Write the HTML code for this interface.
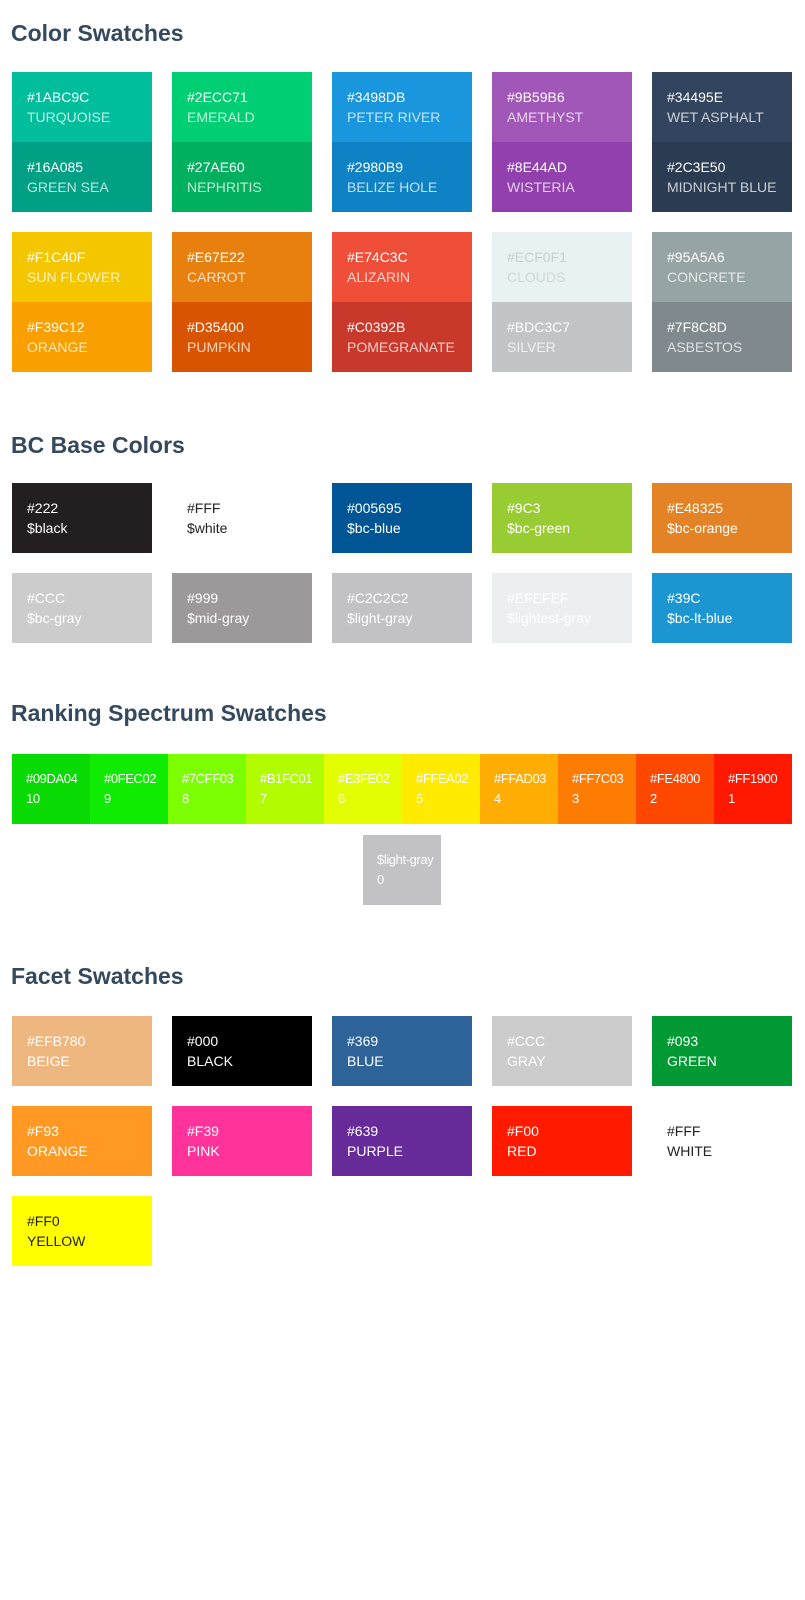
<!DOCTYPE html>
<html><head><meta charset="utf-8"><style>
*{margin:0;padding:0;box-sizing:border-box}
body{width:805px;height:1600px;background:#fff;position:relative;overflow:hidden;font-family:"Liberation Sans",sans-serif}
h2{position:absolute;left:11px;font-size:23px;font-weight:bold;color:#34495E;line-height:28px}
.sw{position:absolute;height:70px;padding-left:15px}
.sw span{position:absolute;left:15px;font-size:14px;line-height:16px;white-space:nowrap}
.h{top:17px}.n{top:37px}
.c .n{font-weight:300;opacity:.75}
.r span{font-size:13px;letter-spacing:-0.4px}
.r .h{left:14px}.r .n{left:14px}
</style></head><body>
<h2 style="top:19px">Color Swatches</h2>
<h2 style="top:431px">BC Base Colors</h2>
<h2 style="top:699px">Ranking Spectrum Swatches</h2>
<h2 style="top:962px">Facet Swatches</h2>
<div id="root"></div>
<script>
const colorHex=["#1ABC9C","#2ECC71","#3498DB","#9B59B6","#34495E","#16A085","#27AE60","#2980B9","#8E44AD","#2C3E50","#F1C40F","#E67E22","#E74C3C","#ECF0F1","#95A5A6","#F39C12","#D35400","#C0392B","#BDC3C7","#7F8C8D"];
const colorFill=["#00BE9C","#00CE72","#1A96DE","#A057B8","#33445E","#00A085","#00B05F","#0E82C4","#9140AE","#2B3B52","#F4C600","#E8800F","#EF4F38","#E8F2F2","#97A4A6","#F99F00","#D85400","#C8392B","#C1C5C7","#808A8E"];
const colorNames=["TURQUOISE","EMERALD","PETER RIVER","AMETHYST","WET ASPHALT","GREEN SEA","NEPHRITIS","BELIZE HOLE","WISTERIA","MIDNIGHT BLUE","SUN FLOWER","CARROT","ALIZARIN","CLOUDS","CONCRETE","ORANGE","PUMPKIN","POMEGRANATE","SILVER","ASBESTOS"];
const bcHex=["#222","#FFF","#005695","#9C3","#E48325","#CCC","#999","#C2C2C2","#EFEFEF","#39C"];
const bcFill=["#231F20","#FFFFFF","#005695","#99CC33","#E48325","#CCCCCC","#9D999B","#C2C1C3","#EBEFEF","#1B96D1"];
const bcNames=["$black","$white","$bc-blue","$bc-green","$bc-orange","$bc-gray","$mid-gray","$light-gray","$lightest-gray","$bc-lt-blue"];
const rankHex=["#09DA04","#0FEC02","#7CFF03","#B1FC01","#E3FE02","#FFEA02","#FFAD03","#FF7C03","#FE4800","#FF1900"];
const rankVals=["10","9","8","7","6","5","4","3","2","1"];
const facetHex=["#EFB780","#000","#369","#CCC","#093","#F93","#F39","#639","#F00","#FFF","#FF0"];
const facetFill=["#EFB780","#000000","#2E6399","#CCCCCC","#009933","#FF9924","#FF3399","#662A99","#FF1A00","#FFFFFF","#FFFF00"];
const facetNames=["BEIGE","BLACK","BLUE","GRAY","GREEN","ORANGE","PINK","PURPLE","RED","WHITE","YELLOW"];
const root=document.getElementById('root');
function mk(x,y,w,bg,hex,name,fg,cls,nm){
  const d=document.createElement('div');
  
  
  d.className='sw '+cls;
  d.style.cssText=`left:${x}px;top:${y}px;width:${w}px;background:${bg};color:${fg}`;
  const a=document.createElement('span');a.className='h';a.textContent=hex;
  
  
  const b=document.createElement('span');b.className='n';b.textContent=name;
  
  
  d.appendChild(a);d.appendChild(b);root.appendChild(d);
}
colorHex.forEach((h,i)=>{
  const col=i%5,blk=Math.floor(i/10),sub=Math.floor(i/5)%2;
  const fg=h==="#ECF0F1"?"#c8cfd1":"#fff";
  mk(12+col*160,72+blk*160+sub*70,140,colorFill[i],h,colorNames[i],fg,'c','color-swatch-'+colorNames[i].toLowerCase().replace(/ /g,'-'));
});
bcHex.forEach((h,i)=>{
  const col=i%5,row=Math.floor(i/5);
  const fg=(h==="#FFF")?"#222":"#fff";
  mk(12+col*160,483+row*90,140,bcFill[i],h,bcNames[i],fg,'b','bc-swatch-'+bcNames[i].slice(1));
});
rankHex.forEach((h,i)=>{
  mk(12+i*78,754,78,h,h,rankVals[i],'#fff','r','rank-swatch-'+rankVals[i]);
});
mk(363,835,78,'#C2C1C3','$light-gray','0','#fff','r','rank-swatch-0');
facetHex.forEach((h,i)=>{
  const col=i%5,row=Math.floor(i/5);
  const fg=(h==="#FFF"||h==="#FF0")?"#222":"#fff";
  mk(12+col*160,1016+row*90,140,facetFill[i],h,facetNames[i],fg,'f','facet-swatch-'+facetNames[i].toLowerCase());
});
</script>
</body></html>
